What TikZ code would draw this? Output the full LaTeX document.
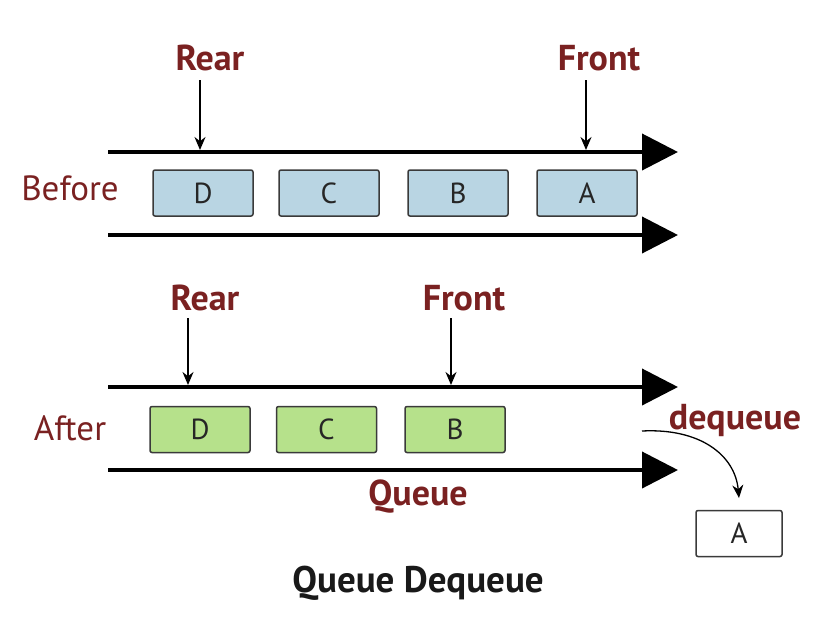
\documentclass[tikz,border=0pt]{standalone}
\usepackage{fontspec}
\setmainfont{PT Sans}
\usetikzlibrary{arrows.meta}
\definecolor{lab}{HTML}{7A2121}
\definecolor{bluefill}{HTML}{B9D5E3}
\definecolor{greenfill}{HTML}{B6E18B}
\definecolor{edge}{HTML}{3A3A3A}
\begin{document}
\begin{tikzpicture}[x=1pt,y=-1pt,
  lbl/.style={text=lab,font=\fontsize{36}{40}\selectfont\bfseries,inner sep=0},
  side/.style={text=lab,font=\fontsize{35}{40}\selectfont,inner sep=0},
  cell/.style={draw=edge,line width=1.5pt,rounded corners=2pt,minimum width=100pt,minimum height=46pt,inner sep=0,text=black!85,font=\fontsize{29}{32}\selectfont},
  rail/.style={line width=4pt,-{Triangle[length=36pt,width=36pt]}},
  ptr/.style={line width=1.3pt,-{Stealth[length=13pt,width=11pt]}}]
\useasboundingbox (0,0) rectangle (836,638);

% ---------- Before ----------
\coordinate (r1s) at (108,152);
\coordinate (r1e) at (678,152);
\coordinate (r2s) at (108,235);
\coordinate (r2e) at (678,235);
\draw[rail] (r1s) -- (r1e);
\draw[rail] (r2s) -- (r2e);

\node[cell,fill=bluefill] (bD) at (203,193) {D};
\node[cell,fill=bluefill] (bC) at (329,193) {C};
\node[cell,fill=bluefill] (bB) at (458,193) {B};
\node[cell,fill=bluefill] (bA) at (587,193) {A};

\node[side] (before) at (70,188) {Before};
\node[lbl] (rear1) at (210,58) {Rear};
\node[lbl] (front1) at (599,58) {Front};
\coordinate (rear1t) at (200,80);
\coordinate (rear1b) at (200,150);
\coordinate (front1t) at (586,80);
\coordinate (front1b) at (586,150);
\draw[ptr] (rear1t) -- (rear1b);
\draw[ptr] (front1t) -- (front1b);

% ---------- After ----------
\coordinate (r3s) at (108,387);
\coordinate (r3e) at (678,387);
\coordinate (r4s) at (108,470);
\coordinate (r4e) at (678,470);
\draw[rail] (r3s) -- (r3e);
\draw[rail] (r4s) -- (r4e);

\node[cell,fill=greenfill] (aD) at (200,429.5) {D};
\node[cell,fill=greenfill] (aC) at (326.5,429.5) {C};
\node[cell,fill=greenfill] (aB) at (455,429.5) {B};

\node[side] (after) at (70,428) {After};
\node[lbl] (rear2) at (205,298) {Rear};
\node[lbl] (front2) at (464,298) {Front};
\coordinate (rear2t) at (188,318);
\coordinate (rear2b) at (188,385);
\coordinate (front2t) at (451,318);
\coordinate (front2b) at (451,385);
\draw[ptr] (rear2t) -- (rear2b);
\draw[ptr] (front2t) -- (front2b);

\node[lbl] (queue) at (418,497) {Queue};
\node[lbl] (deq) at (735,420) {dequeue};

\node[cell,fill=white,minimum width=86pt,minimum height=46pt] (outA) at (739,533.5) {A};
\coordinate (deqs) at (642,431);
\coordinate (deqe) at (739,498);
\draw[ptr] (deqs) .. controls (700,428) and (735,455) .. (deqe);

\node[font=\fontsize{37}{40}\selectfont\bfseries,text=black!90,inner sep=0] (title) at (418,583) {Queue Dequeue};
\end{tikzpicture}
\end{document}
